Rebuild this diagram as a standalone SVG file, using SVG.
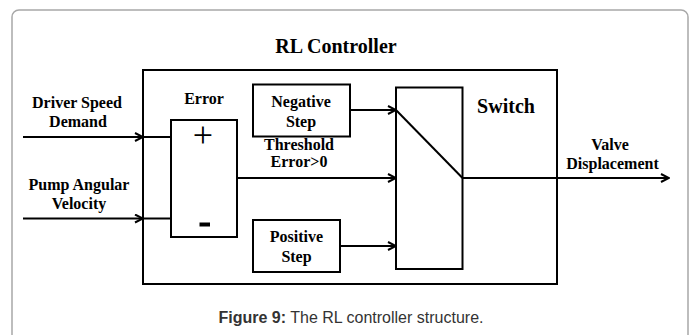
<svg xmlns="http://www.w3.org/2000/svg" width="696" height="335" viewBox="0 0 696 335">
<defs>
<style>
.frame{fill:#fff;stroke:#a8a8a8;stroke-width:1.5}
.box{fill:#fff;stroke:#000;stroke-width:2}
.ln{fill:none;stroke:#000;stroke-width:2}
.t{font-family:"Liberation Serif","Times New Roman",serif;font-weight:bold;font-size:16px;fill:#000;text-anchor:middle}
.big{font-size:20px}
.cap{font-family:"Liberation Sans",Arial,sans-serif;font-size:16px;fill:#333;text-anchor:middle}
</style>
<marker id="arr" viewBox="0 0 10 10" refX="9" refY="5" markerWidth="10" markerHeight="10" markerUnits="userSpaceOnUse" orient="auto">
<path d="M1,1 L9,5 L1,9" fill="none" stroke="#000" stroke-width="2"/>
</marker>
</defs>
<rect class="frame" x="12" y="10" width="676" height="340" rx="7"/>
<g id="controller">
<rect class="box" x="143" y="70" width="414" height="214"/>
<text class="t big" x="336" y="52.5">RL Controller</text>
</g>
<g id="error">
<rect class="box" x="171" y="120" width="66" height="117"/>
<text class="t" x="204" y="104">Error</text>
<text x="203" y="146.5" font-family="Liberation Serif,serif" font-size="36" text-anchor="middle">+</text>
<rect x="199.5" y="222.5" width="10.5" height="4" fill="#000"/>
</g>
<g id="negative-step">
<rect class="box" x="253" y="84.5" width="97" height="52"/>
<text class="t" x="301" y="106.5">Negative</text>
<text class="t" x="301" y="126.5">Step</text>
</g>
<g id="positive-step">
<rect class="box" x="253" y="220" width="87" height="52"/>
<text class="t" x="296.5" y="241.5">Positive</text>
<text class="t" x="296.5" y="261.5">Step</text>
</g>
<g id="switch">
<rect class="box" x="396" y="87.5" width="66.5" height="181.5"/>
<text class="t big" x="506" y="113">Switch</text>
</g>
<g id="labels">
<text class="t" x="77" y="108">Driver Speed</text>
<text class="t" x="78" y="127">Demand</text>
<text class="t" x="79" y="190">Pump Angular</text>
<text class="t" x="79" y="209">Velocity</text>
<text class="t" x="299" y="150">Threshold</text>
<text class="t" x="299" y="167">Error&gt;0</text>
<text class="t" x="610" y="150">Valve</text>
<text class="t" x="612.5" y="169">Displacement</text>
</g>
<g id="connectors">
<line class="ln" x1="23" y1="137" x2="143" y2="137" marker-end="url(#arr)"/>
<line class="ln" x1="143" y1="137" x2="171" y2="137"/>
<line class="ln" x1="23" y1="218.5" x2="143" y2="218.5" marker-end="url(#arr)"/>
<line class="ln" x1="143" y1="218.5" x2="171" y2="218.5"/>
<line class="ln" x1="237" y1="178" x2="396" y2="178" marker-end="url(#arr)"/>
<line class="ln" x1="350" y1="110" x2="396" y2="110" marker-end="url(#arr)"/>
<line class="ln" x1="340" y1="246" x2="396" y2="246" marker-end="url(#arr)"/>
<line class="ln" x1="396" y1="110" x2="462.5" y2="178"/>
<line class="ln" x1="462.5" y1="178" x2="669" y2="178" marker-end="url(#arr)"/>
</g>
<text class="cap" x="351" y="323"><tspan font-weight="bold">Figure 9:</tspan> The RL controller structure.</text>
</svg>
